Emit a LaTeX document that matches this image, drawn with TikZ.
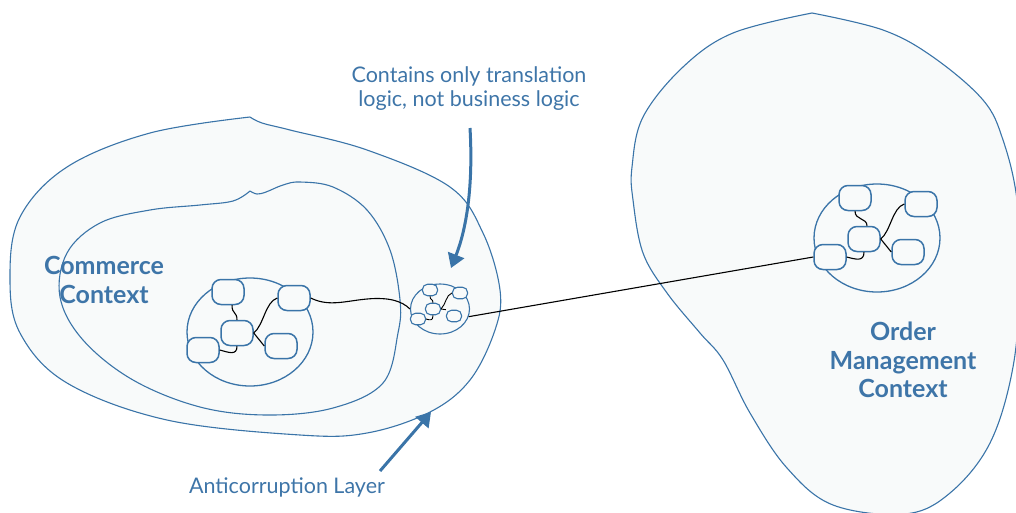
\documentclass[tikz,border=0pt]{standalone}
\usepackage{fontspec}
\setmainfont{Lato}
\usetikzlibrary{shapes.geometric,arrows.meta}
\definecolor{ddblue}{HTML}{3A74A8}
\definecolor{ddfill}{HTML}{F8FAFA}
\definecolor{ddtext}{HTML}{3E75A8}
\begin{document}
\begin{tikzpicture}[x=1pt,y=-1pt,
  blob/.style={draw=ddblue, fill=ddfill, line width=1.1pt},
  agg/.style={draw=ddblue, fill=ddfill, ellipse, line width=1.3pt, minimum width=126pt, minimum height=108pt, inner sep=0pt},
  sagg/.style={draw=ddblue, fill=ddfill, ellipse, line width=1.1pt, minimum width=59pt, minimum height=50pt, inner sep=0pt},
  ent/.style={draw=ddblue, fill=ddfill, rounded corners=9pt, line width=1.5pt, minimum width=32pt, minimum height=25pt, inner sep=0pt},
  sent/.style={draw=ddblue, fill=ddfill, rounded corners=5pt, line width=1.1pt, minimum width=15pt, minimum height=11.5pt, inner sep=0pt},
  link/.style={draw=black, line width=1.1pt},
  slink/.style={draw=black, line width=0.9pt},
  callout/.style={draw=ddblue, line width=3pt, -{Triangle[length=14pt,width=17pt]}},
  lbl/.style={text=ddtext, font=\fontsize{21.5}{24}\selectfont, align=center},
  ctx/.style={text=ddtext, font=\bfseries\fontsize{25}{28.5}\selectfont, align=center}]
\useasboundingbox (0,0) rectangle (1016,512);
% --- Commerce context: anticorruption layer boundary
\draw[blob] plot[smooth, tension=0.6] coordinates {(250,117) (262,123) (290,130) (367,150) (450,187) (483,233) (500,290) (495,330) (470,380) (430,412) (367,433) (300,435) (167,420) (67,383) (20,333) (10,277) (20,217) (67,167) (150,133) (250,117)};
% --- inner commerce context
\draw[blob] plot[smooth, tension=0.6] coordinates {(250,191) (257,194) (266,192) (283,185) (300,182) (333,187) (367,210) (390,250) (400,300) (398,333) (383,383) (333,408) (267,415) (200,407) (133,380) (83,340) (60,297) (67,253) (100,223) (150,210) (200,205) (233,201) (250,191)};
% --- Order management context
\begin{scope}
\clip (0,0) rectangle (1016,512);
\draw[blob] plot[smooth, tension=0.6] coordinates {(812,13) (883,30) (933,57) (983,100) (1003,140) (1017,200) (1020,280) (1013,367) (990,443) (950,493) (905,514) (833,505) (787,468) (750,413) (723,360) (700,333) (667,293) (643,253) (633,200) (632,167) (643,117) (683,67) (733,33) (812,13)};
\end{scope}
% --- Commerce aggregate
\node[agg] (cAgg) at (250,332) {};
\node[ent] (cA) at (228,292) {};
\node[ent] (cB) at (294,298) {};
\node[ent] (cC) at (237,333) {};
\node[ent] (cD) at (203,350) {};
\node[ent] (cE) at (281,346) {};
\draw[link] ([xshift=4pt]cA.south) .. controls +(0,9) and +(0,-8) .. (cC.north);
\draw[link] (cB.west) .. controls +(-12,4) and +(10,-8) .. (cC.east);
\draw[link] (cC.east) -- (cE.west);
\draw[link] (cC.south) .. controls +(0,10) and +(8,2) .. (cD.east);
% --- Anticorruption layer aggregate
\node[sagg] (acl) at (440,309) {};
\node[sent] (sA) at (430,290) {};
\node[sent] (sB) at (460,293) {};
\node[sent] (sC) at (433,309) {};
\node[sent] (sD) at (418,319) {};
\node[sent] (sE) at (454,316) {};
\draw[slink] (sA.south) .. controls +(0,4) and +(0,-4) .. (sC.north);
\draw[slink] (sB.west) .. controls +(-6,2) and +(5,-5) .. (sC.east);
\draw[slink] (sC.east) -- (sE.north west);
\draw[slink] (sC.south) .. controls +(0,6) and +(4,1) .. (sD.east);
% --- Order management aggregate
\node[agg] (oAgg) at (877,238) {};
\node[ent] (oA) at (855,198) {};
\node[ent] (oB) at (921,204) {};
\node[ent] (oC) at (864,239) {};
\node[ent] (oD) at (830,257) {};
\node[ent] (oE) at (908,252) {};
\draw[link] (oA.south) .. controls +(0,9) and +(0,-8) .. ([xshift=3pt]oC.north);
\draw[link] (oB.west) .. controls +(-12,4) and +(10,-8) .. (oC.east);
\draw[link] (oC.east) -- (oE.west);
\draw[link] (oC.south) .. controls +(0,10) and +(8,2) .. (oD.east);
% --- inter-context links
\draw[link] (cB.east) .. controls +(18,9) and +(-22,2) .. (367,299) .. controls +(22,-2) and +(-8,-8) .. (acl.west);
\draw[link] (acl.-15) -- (oD.west);
% --- labels
\node[ctx] (cCtx) at (104,280) {Commerce\\Context};
\node[ctx] (oCtx) at (903,360) {Order\\Management\\Context};
\node[lbl] (note) at (469,89) {Contains only translation\\logic, not business logic};
\node[lbl] (aclLbl) at (287,487) {Anticorruption Layer};
% --- callout arrows
\coordinate (n1) at (470,128);
\coordinate (n2) at (451,268);
\coordinate (a1) at (380,471);
\coordinate (a2) at (431,412);
\draw[callout] (n1) .. controls (473,180) and (468,225) .. (n2);
\draw[callout] (a1) -- (a2);
\end{tikzpicture}
\end{document}
